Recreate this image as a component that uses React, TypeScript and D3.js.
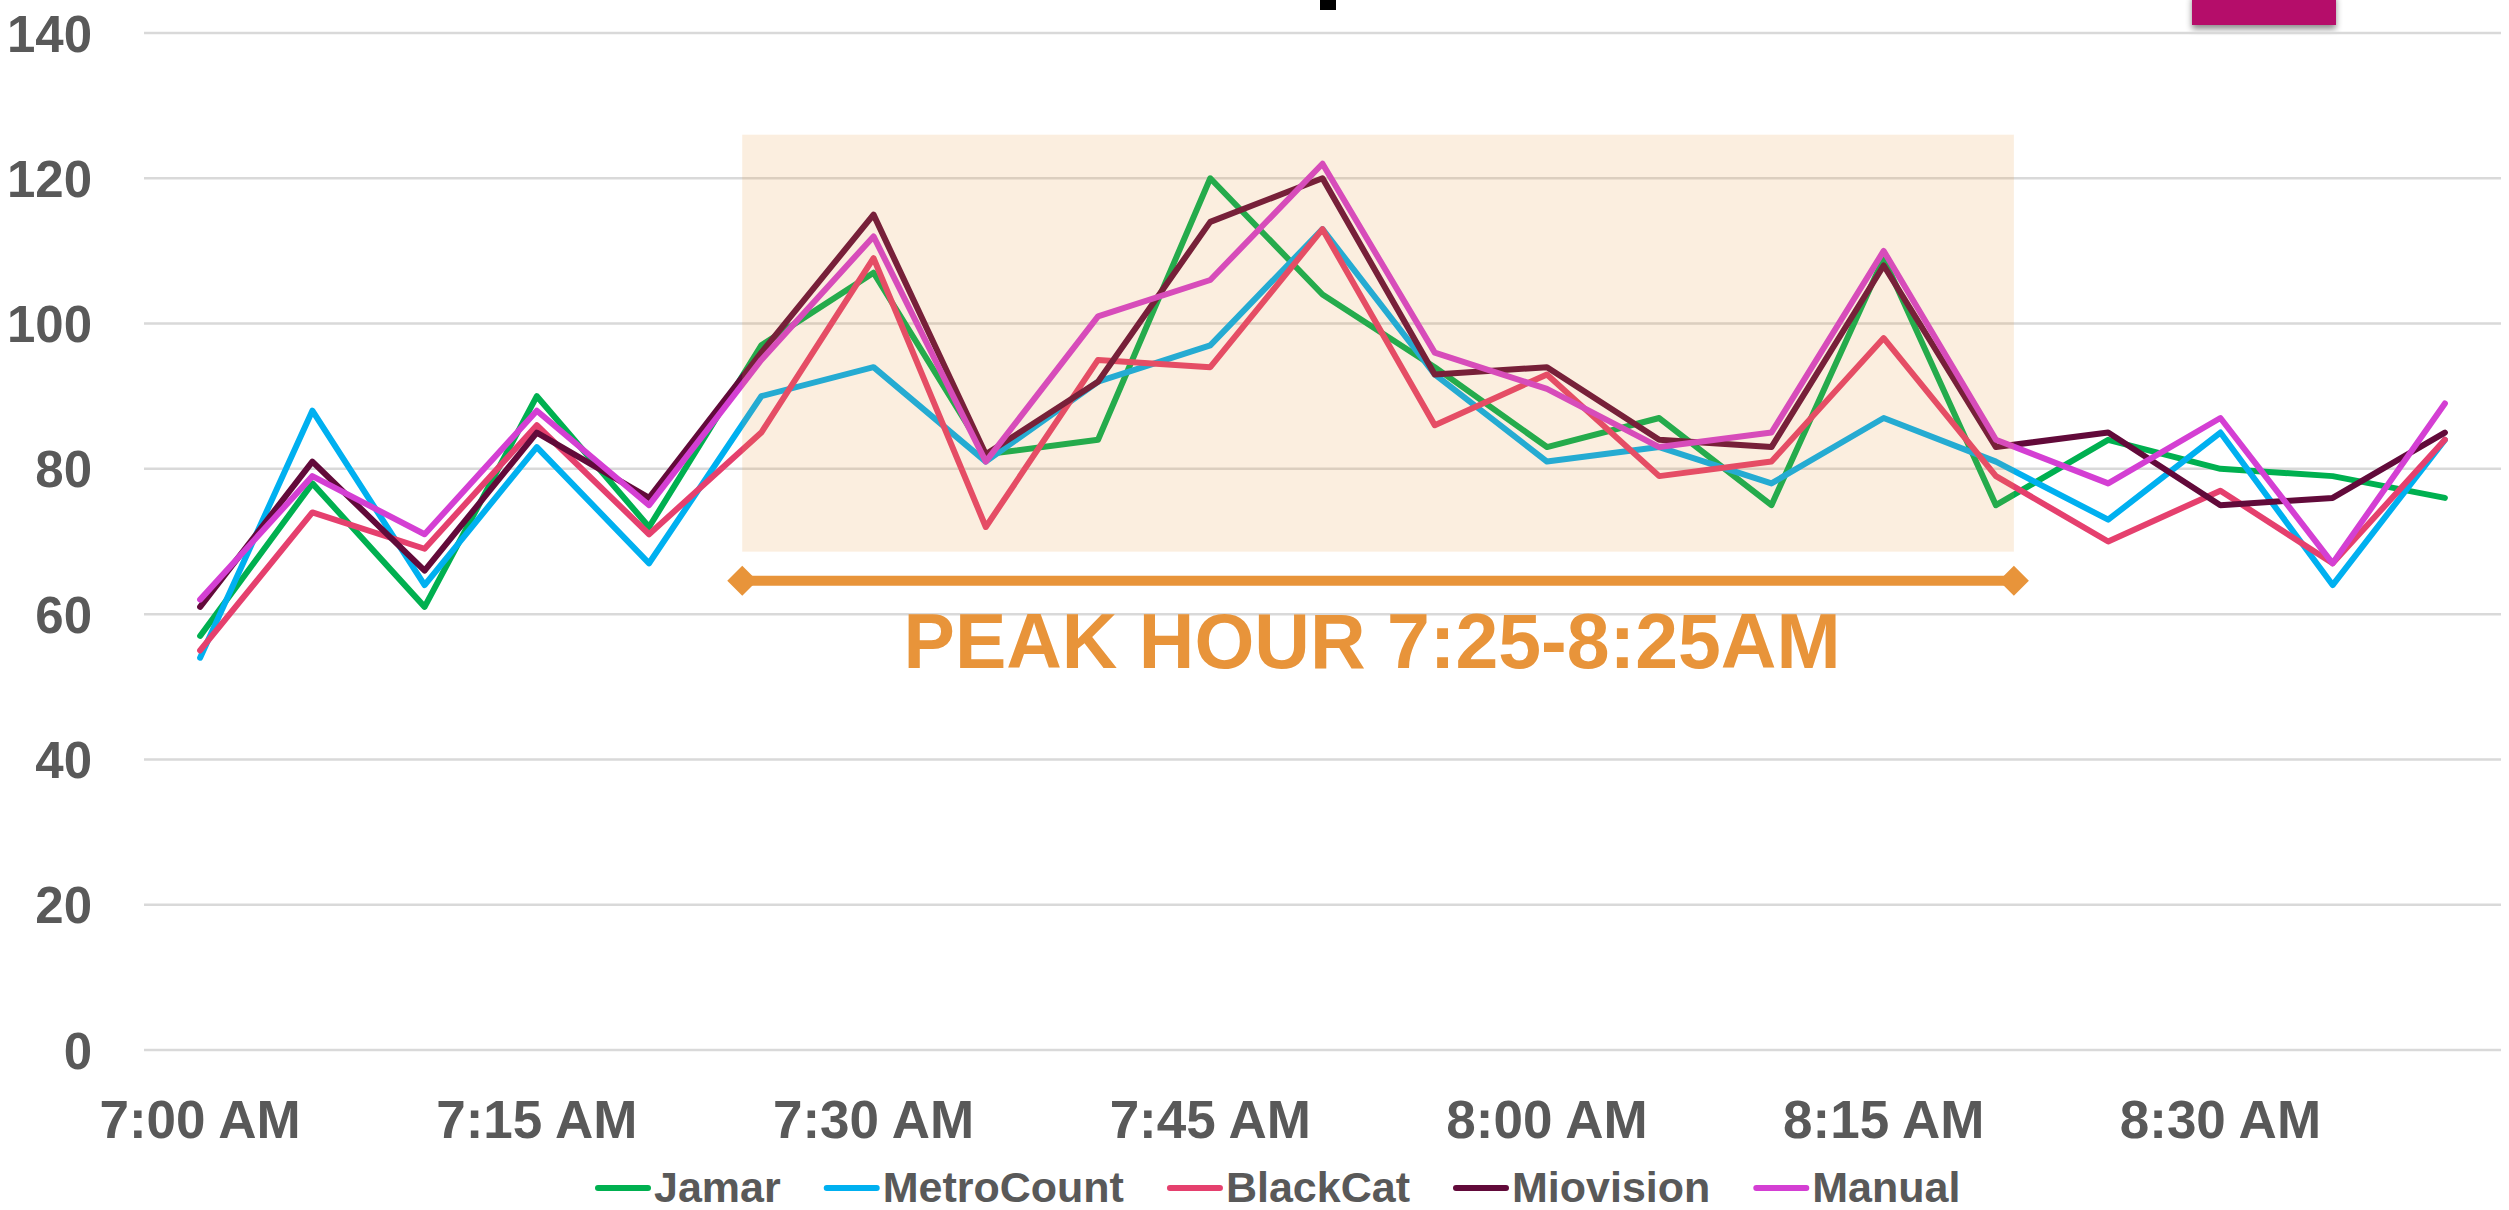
import React, { useEffect, useRef } from 'react'
import * as d3 from 'd3'

// 5-minute intervals, 7:00 to 8:40
const times = [
  '7:00 AM', '7:05 AM', '7:10 AM', '7:15 AM', '7:20 AM', '7:25 AM', '7:30 AM',
  '7:35 AM', '7:40 AM', '7:45 AM', '7:50 AM', '7:55 AM', '8:00 AM', '8:05 AM',
  '8:10 AM', '8:15 AM', '8:20 AM', '8:25 AM', '8:30 AM', '8:35 AM', '8:40 AM',
]
const tickLabels = ['7:00 AM', '7:15 AM', '7:30 AM', '7:45 AM', '8:00 AM', '8:15 AM', '8:30 AM']
const yTicks = [0, 20, 40, 60, 80, 100, 120, 140]

const seriesNames = ['Jamar', 'MetroCount', 'BlackCat', 'Miovision', 'Manual']
const seriesColors = ['#00B050', '#00B0F0', '#E5406E', '#620A3A', '#D43FD3']

const jamar = [57, 78, 61, 90, 72, 97, 107, 82, 84, 120, 104, 94, 83, 87, 75, 109, 75, 84, 80, 79, 76]
const metroCount = [54, 88, 64, 83, 67, 90, 94, 81, 92, 97, 113, 93, 81, 83, 78, 87, 81, 73, 85, 64, 84]
const blackCat = [55, 74, 69, 86, 71, 85, 109, 72, 95, 94, 113, 86, 93, 79, 81, 98, 79, 70, 77, 67, 84]
const miovision = [61, 81, 66, 85, 76, 96, 115, 82, 92, 114, 120, 93, 94, 84, 83, 108, 83, 85, 75, 76, 85]
const manual = [62, 79, 71, 88, 75, 95, 112, 81, 101, 106, 122, 96, 91, 83, 85, 110, 84, 78, 87, 67, 89]
const seriesValues = [jamar, metroCount, blackCat, miovision, manual]

// peak hour annotation, in category-index / value units
const peakLabel = 'PEAK HOUR 7:25-8:25AM'
const peakIndexRange = [4.83, 16.16]
const peakValueRange = [68.6, 126]
const peakArrowValue = 64.6
const peakTextValue = 52.6

const W = 2509
const H = 1210
const FONT = '"Liberation Sans", Arial, sans-serif'
const ORANGE = '#E8943A'
const GREY = '#595959'

export default function App() {
  const svgRef = useRef(null)

  useEffect(() => {
    const svg = d3.select(svgRef.current)
    svg.selectAll('*').remove()

    const x = d3.scalePoint().domain(times).range([144, 2501]).padding(0.5)
    const xi = d3
      .scaleLinear()
      .domain([0, times.length - 1])
      .range([x(times[0]), x(times[times.length - 1])])
    const y = d3.scaleLinear().domain([0, 140]).range([1050, 33])

    const defs = svg.append('defs')
    const f = defs.append('filter').attr('id', 'shadow').attr('x', '-20%').attr('y', '-20%').attr('width', '140%').attr('height', '160%')
    f.append('feDropShadow').attr('dx', 0).attr('dy', 4).attr('stdDeviation', 3).attr('flood-opacity', 0.45)

    // top fragments (clipped title and badge)
    svg.append('rect').attr('x', 1320).attr('y', 0).attr('width', 16).attr('height', 10).attr('fill', '#000')
    svg
      .append('rect')
      .attr('x', 2192)
      .attr('y', -6)
      .attr('width', 144)
      .attr('height', 31)
      .attr('fill', '#B5116B')
      .attr('filter', 'url(#shadow)')

    // gridlines
    svg
      .append('g')
      .selectAll('line')
      .data(yTicks)
      .enter()
      .append('line')
      .attr('x1', 144)
      .attr('x2', 2501)
      .attr('y1', (d) => y(d))
      .attr('y2', (d) => y(d))
      .attr('stroke', '#D9D9D9')
      .attr('stroke-width', 2.5)

    // y labels
    svg
      .append('g')
      .selectAll('text')
      .data(yTicks)
      .enter()
      .append('text')
      .attr('x', 92)
      .attr('y', (d) => y(d) + 18.5)
      .attr('text-anchor', 'end')
      .attr('font-family', FONT)
      .attr('font-weight', 'bold')
      .attr('font-size', 51)
      .attr('fill', GREY)
      .text((d) => d)

    // x labels
    svg
      .append('g')
      .selectAll('text')
      .data(tickLabels)
      .enter()
      .append('text')
      .attr('x', (d) => x(d))
      .attr('y', 1138)
      .attr('text-anchor', 'middle')
      .attr('font-family', FONT)
      .attr('font-weight', 'bold')
      .attr('font-size', 53)
      .attr('fill', GREY)
      .text((d) => d)

    // series lines
    const line = d3
      .line()
      .x((d, i) => x(times[i]))
      .y((d) => y(d))

    seriesValues.forEach((vals, k) => {
      svg
        .append('path')
        .datum(vals)
        .attr('d', line)
        .attr('fill', 'none')
        .attr('stroke', seriesColors[k])
        .attr('stroke-width', 6)
        .attr('stroke-linejoin', 'round')
        .attr('stroke-linecap', 'round')
    })

    // peak hour box (translucent over the lines)
    svg
      .append('rect')
      .attr('x', xi(peakIndexRange[0]))
      .attr('y', y(peakValueRange[1]))
      .attr('width', xi(peakIndexRange[1]) - xi(peakIndexRange[0]))
      .attr('height', y(peakValueRange[0]) - y(peakValueRange[1]))
      .attr('fill', ORANGE)
      .attr('fill-opacity', 0.16)

    // arrow
    const ax0 = xi(peakIndexRange[0])
    const ax1 = xi(peakIndexRange[1])
    const ay = y(peakArrowValue)
    svg
      .append('line')
      .attr('x1', ax0)
      .attr('x2', ax1)
      .attr('y1', ay)
      .attr('y2', ay)
      .attr('stroke', ORANGE)
      .attr('stroke-width', 10)
    ;[ax0, ax1].forEach((cx) => {
      svg
        .append('path')
        .attr('d', `M${cx - 15},${ay}L${cx},${ay - 15}L${cx + 15},${ay}L${cx},${ay + 15}Z`)
        .attr('fill', ORANGE)
    })

    svg
      .append('text')
      .attr('x', (ax0 + ax1) / 2 - 6)
      .attr('y', y(peakTextValue))
      .attr('text-anchor', 'middle')
      .attr('font-family', FONT)
      .attr('font-weight', 'bold')
      .attr('font-size', 77)
      .attr('fill', ORANGE)
      .text(peakLabel)

    // legend
    const legend = svg.append('g')
    let cx = 595
    seriesNames.forEach((name, k) => {
      const g = legend.append('g')
      g.append('line')
        .attr('x1', cx + 3)
        .attr('x2', cx + 53)
        .attr('y1', 1188)
        .attr('y2', 1188)
        .attr('stroke', seriesColors[k])
        .attr('stroke-width', 6)
        .attr('stroke-linecap', 'round')
      const t = g
        .append('text')
        .attr('x', cx + 59)
        .attr('y', 1202)
        .attr('font-family', FONT)
        .attr('font-weight', 'bold')
        .attr('font-size', 43)
        .attr('fill', GREY)
        .text(name)
      const w = (t.node() as SVGTextElement).getComputedTextLength()
      cx = cx + 59 + w + 43
    })
  }, [])

  return (
    <div style={{ position: 'absolute', left: 0, top: 0 }}>
      <svg ref={svgRef} width={W} height={H} style={{ display: 'block', background: '#fff' }}></svg>
    </div>
  )
}
